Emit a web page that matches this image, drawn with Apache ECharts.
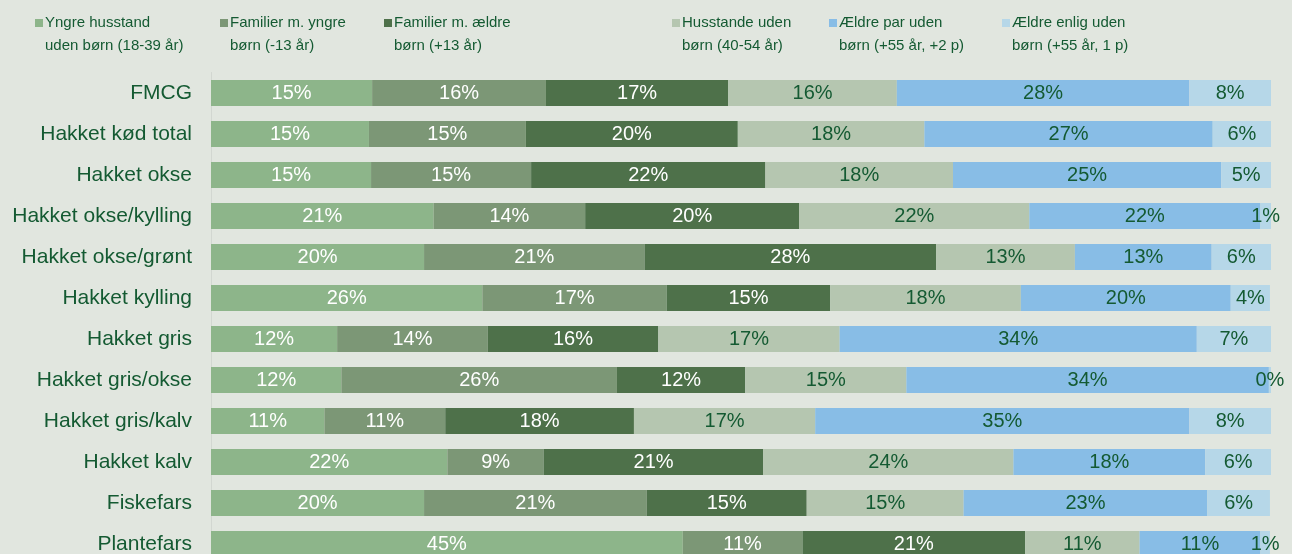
<!DOCTYPE html>
<html><head><meta charset="utf-8">
<script src="https://cdn.jsdelivr.net/npm/echarts@6/dist/echarts.min.js"></script>
<style>html,body{margin:0;padding:0;background:#e1e6df}#c{width:1292px;height:554px}</style>
</head><body><div id="c"></div>
<script>
const categories = ['FMCG','Hakket kød total','Hakket okse','Hakket okse/kylling','Hakket okse/grønt','Hakket kylling','Hakket gris','Hakket gris/okse','Hakket gris/kalv','Hakket kalv','Fiskefars','Plantefars'];
const seriesNames = ['Yngre husstand\nuden børn (18-39 år)','Familier m. yngre\nbørn (-13 år)','Familier m. ældre\nbørn (+13 år)','Husstande uden\nbørn (40-54 år)','Ældre par uden\nbørn (+55 år, +2 p)','Ældre enlig uden\nbørn (+55 år, 1 p)'];
const yngreHusstand   = [15.2,14.9,15.1,21.0,20.1,25.6,11.9,12.3,10.7,22.3,20.1,44.5];
const familierYngre   = [16.4,14.8,15.1,14.3,20.8,17.4,14.2,26.0,11.4, 9.1,21.0,11.3];
const familierAeldre  = [17.2,20.0,22.1,20.2,27.5,15.4,16.1,12.1,17.8,20.7,15.1,21.0];
const husstandeUden   = [15.9,17.6,17.7,21.7,13.1,18.0,17.1,15.2,17.1,23.6,14.8,10.8];
const aeldrePar       = [27.6,27.2,25.3,21.8,12.9,19.8,33.7,34.2,35.3,18.1,23.0,11.4];
const aeldreEnlig     = [ 7.7, 5.5, 4.7, 1.0, 5.6, 3.7, 7.0, 0.2, 7.7, 6.3, 5.9, 0.9];
const seriesValues = [yngreHusstand,familierYngre,familierAeldre,husstandeUden,aeldrePar,aeldreEnlig];

const colors = ['#8db58a','#7c9776','#4e714a','#b5c6b0','#88bde6','#b6d7e8'];
const labelColors = ['#ffffff','#ffffff','#ffffff','#145a32','#145a32','#145a32'];
const textDark = '#145a32';
const legendLeft = [35,220,384,672,829,1002];
const font = '"Liberation Sans", Arial, sans-serif';

const chart = echarts.init(document.getElementById('c'));
chart.setOption({
  backgroundColor: '#e1e6df',
  animation: false,
  color: colors,
  legend: seriesNames.map((n,i)=>({
    data:[n], left: legendLeft[i], top: -11.5, padding: 0,
    icon:'rect', itemWidth:8, itemHeight:8,
    formatter: name => ' \n' + name,
    textStyle:{color:textDark, fontSize:15, fontFamily:font, lineHeight:23, padding:[0,0,0,-3]}
  })),
  grid: {left:211, right:21, top:72.5, height:492, outerBoundsMode:'none', containLabel:false},
  xAxis: {type:'value', min:0, max:100, show:false},
  yAxis: {type:'category', data:categories, inverse:true,
    axisTick:{show:false},
    axisLine:{show:true, lineStyle:{color:'#d2d7d1', width:1}},
    axisLabel:{color:textDark, fontSize:21, fontFamily:font, margin:19}
  },
  series: seriesValues.map((vals,i)=>({
    name: seriesNames[i], type:'bar', stack:'total', barWidth:26,
    data: vals,
    itemStyle:{color:colors[i]},
    label:{show:true, position:'inside', color:labelColors[i], fontSize:20, fontFamily:font,
      formatter: p => Math.round(p.value) + '%'}
  }))
});
</script></body></html>
